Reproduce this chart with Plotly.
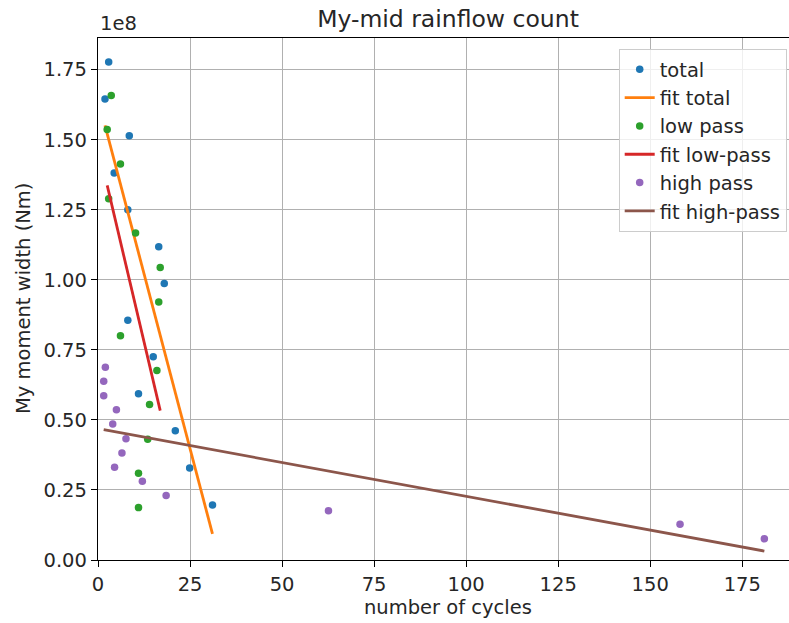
import numpy as np
import plotly.graph_objects as go

SCALE = 1e8

total_x = [2.9, 1.9, 8.5, 4.4, 8.1, 16.5, 18.0, 8.1, 15.0, 11.0, 21.0, 24.9, 31.1]
total_y = [1.777, 1.645, 1.514, 1.381, 1.250, 1.118, 0.987, 0.856, 0.725, 0.593, 0.461, 0.328, 0.196]

low_x = [3.6, 2.5, 6.1, 2.9, 10.2, 16.9, 16.5, 6.1, 16.0, 14.0, 13.5, 11.0, 11.0]
low_y = [1.658, 1.536, 1.413, 1.289, 1.167, 1.044, 0.921, 0.800, 0.676, 0.555, 0.431, 0.310, 0.187]

high_x = [2.0, 1.55, 1.55, 5.0, 4.0, 7.6, 6.5, 4.5, 12.05, 18.5, 62.6, 158.1, 181.0]
high_y = [0.688, 0.638, 0.586, 0.536, 0.485, 0.433, 0.382, 0.331, 0.281, 0.230, 0.176, 0.1275, 0.076]

# fitted line values at min/max cycle count of each series
fit_total_y = [1.551, 0.093]
fit_low_y = [1.337, 0.533]
fit_high_y = [0.465, 0.032]

x_ticks = [0, 25, 50, 75, 100, 125, 150, 175]
y_ticks = [0.0, 0.25, 0.5, 0.75, 1.0, 1.25, 1.5, 1.75]

C = dict(blue="#1f77b4", orange="#ff7f0e", green="#2ca02c",
         red="#d62728", purple="#9467bd", brown="#8c564b")

def s(v):
    return [a * SCALE for a in v]

def ends(x):
    return [min(x), max(x)]

fig = go.Figure()
mk = dict(size=7.5)
lw = 2.8
fig.add_trace(go.Scatter(x=total_x, y=s(total_y), mode="markers", name="total",
                         marker=dict(color=C["blue"], **mk)))
fig.add_trace(go.Scatter(x=ends(total_x), y=s(fit_total_y), mode="lines", name="fit total",
                         line=dict(color=C["orange"], width=lw)))
fig.add_trace(go.Scatter(x=low_x, y=s(low_y), mode="markers", name="low pass",
                         marker=dict(color=C["green"], **mk)))
fig.add_trace(go.Scatter(x=ends(low_x), y=s(fit_low_y), mode="lines", name="fit low-pass",
                         line=dict(color=C["red"], width=lw)))
fig.add_trace(go.Scatter(x=high_x, y=s(high_y), mode="markers", name="high pass",
                         marker=dict(color=C["purple"], **mk)))
fig.add_trace(go.Scatter(x=ends(high_x), y=s(fit_high_y), mode="lines", name="fit high-pass",
                         line=dict(color=C["brown"], width=lw)))

FONT = "DejaVu Sans"
TXT = "#262626"
FS = 19.5
W, H = 789, 623
L, R, T, B = 98, 0, 38, 63

fig.update_layout(
    width=W, height=H,
    margin=dict(l=L, r=R, t=T, b=B, autoexpand=False),
    paper_bgcolor="white", plot_bgcolor="white",
    font=dict(family=FONT, size=FS, color=TXT),
    title=dict(text="My-mid rainflow count", x=448 / W, xref="container", xanchor="center",
               y=1 - 19 / H, yref="container", yanchor="middle",
               font=dict(family=FONT, size=23.5, color=TXT)),
    showlegend=True,
    legend=dict(x=(786.7 - L) / (W - L - R), y=(560 - 49) / (H - T - B),
                xanchor="right", yanchor="top",
                bgcolor="rgba(255,255,255,0.8)", bordercolor="#cccccc", borderwidth=1,
                font=dict(family=FONT, size=FS, color=TXT), tracegroupgap=0),
    xaxis=dict(range=[0, 187.7], tickvals=x_ticks, ticktext=[str(v) for v in x_ticks],
               showgrid=True, gridcolor="#b0b0b0", gridwidth=1.4, zeroline=False,
               showline=True, linecolor="black", linewidth=1.4, mirror=True,
               ticks="outside", ticklen=6, tickwidth=1.4, tickcolor="black",
               tickfont=dict(family=FONT, size=FS, color=TXT)),
    yaxis=dict(range=[0, 1.863 * SCALE], tickvals=s(y_ticks),
               ticktext=["%.2f" % v for v in y_ticks],
               showgrid=True, gridcolor="#b0b0b0", gridwidth=1.4, zeroline=False,
               showline=True, linecolor="black", linewidth=1.4,
               ticks="outside", ticklen=6, tickwidth=1.4, tickcolor="black",
               tickfont=dict(family=FONT, size=FS, color=TXT)),
    annotations=[
        dict(text="1e8", xref="paper", yref="paper", x=0, y=1, xanchor="left", yanchor="bottom",
             yshift=1, showarrow=False, font=dict(family=FONT, size=FS, color=TXT)),
        dict(text="number of cycles", xref="paper", yref="paper", x=(448 - L) / (W - L - R),
             y=(560 - 607) / (H - T - B), xanchor="center", yanchor="middle",
             showarrow=False, font=dict(family=FONT, size=FS, color=TXT)),
        dict(text="My moment width (Nm)", xref="paper", yref="paper", x=(23 - L) / (W - L - R),
             y=0.5, xanchor="center", yanchor="middle", textangle=-90,
             showarrow=False, font=dict(family=FONT, size=FS, color=TXT)),
    ],
)

fig.write_html("out.html", config={"displayModeBar": False},
               post_script="document.body.style.margin='0';document.body.style.overflow='hidden';")
